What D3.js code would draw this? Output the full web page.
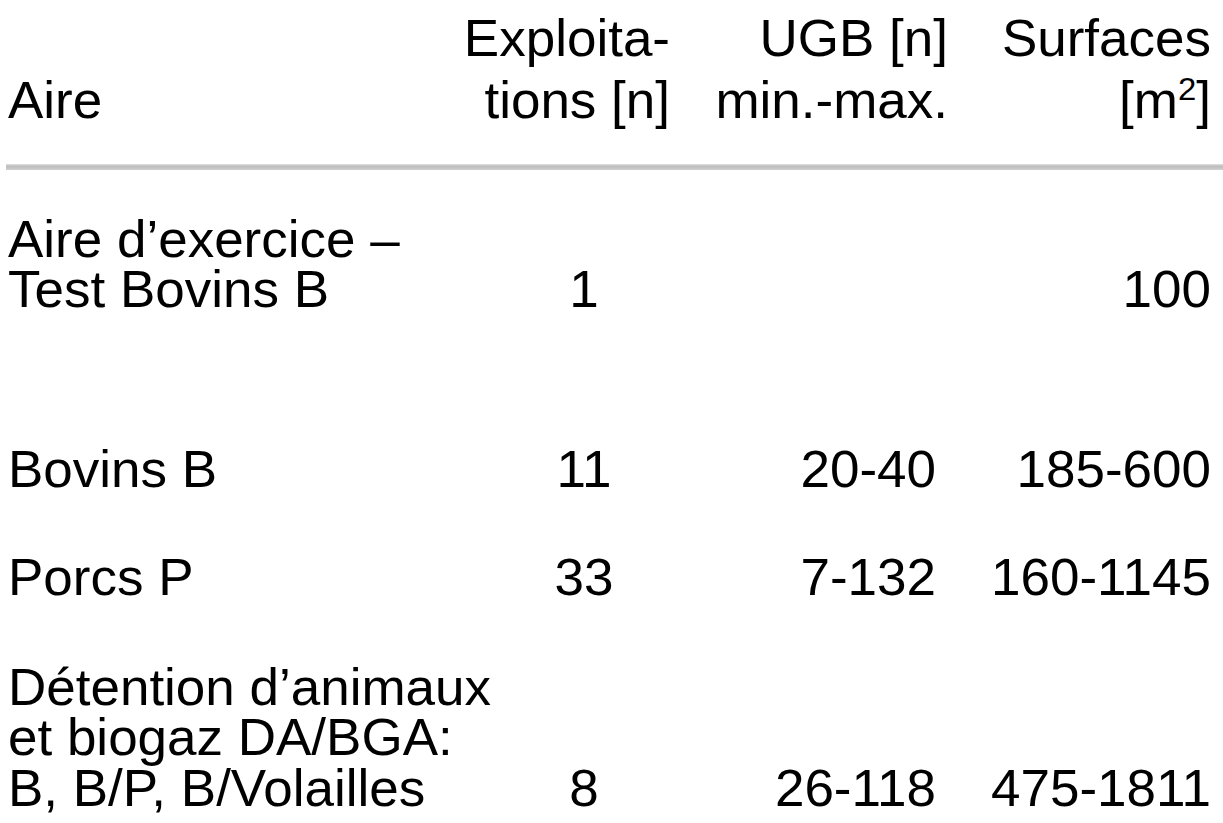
<!DOCTYPE html>
<html>
<head>
<meta charset="utf-8">
<script src="https://cdn.jsdelivr.net/npm/d3@7"></script>
<style>
  html, body { margin: 0; padding: 0; background: #fff; }
  svg { display: block; }
</style>
</head>
<body>
<svg id="chart" width="1223" height="823"></svg>
<script>
// ---- data ----
const headerAire = ["", "Aire"];
const headerExploitations = ["Exploita-", "tions [n]"];
const headerUGB = ["UGB [n]", "min.-max."];
const headerSurfaces = ["Surfaces", "[m|2|]"]; // "|2|" marks superscript

const categories = [
  ["Aire d\u2019exercice \u2013", "Test Bovins B"],
  ["Bovins B"],
  ["Porcs P"],
  ["D\u00e9tention d\u2019animaux", "et biogaz DA/BGA:", "B, B/P, B/Volailles"]
];
const exploitations = ["1", "11", "33", "8"];
const ugbRange = ["", "20-40", "7-132", "26-118"];
const surfaceRange = ["100", "185-600", "160-1145", "475-1811"];

// ---- layout ----
const W = 1223, H = 823;
const fontSize = 53;
const sy = 0.96;
const svg = d3.select("#chart");

// row index -> baseline of the row's first line (screen px)
const rowY = d3.scaleOrdinal().domain([0, 1, 2, 3]).range([257, 487, 595, 705]);
const lineStep = 50.5;
const headY = d3.scaleOrdinal().domain([0, 1]).range([56, 118]);

// column anchors
const xHead = d3.scaleOrdinal().domain(["aire", "exp", "ugb", "surf"]).range([8, 670, 948, 1211]);
const xBody = d3.scaleOrdinal().domain(["aire", "exp", "ugb", "surf"]).range([8, 584, 936, 1211]);
const anchorHead = { aire: "start", exp: "end", ugb: "end", surf: "end" };
const anchorBody = { aire: "start", exp: "middle", ugb: "end", surf: "end" };

const g = svg.append("g")
  .attr("transform", `scale(1,${sy})`)
  .attr("font-family", "'Liberation Sans', Arial, Helvetica, sans-serif")
  .attr("font-size", fontSize)
  .attr("fill", "#000");

function addText(xx, yy, anc, txt) {
  const t = g.append("text")
    .attr("x", xx)
    .attr("y", yy / sy)
    .attr("text-anchor", anc);
  const parts = txt.split("|");
  parts.forEach((p, i) => {
    if (!p) return;
    const ts = t.append("tspan").text(p);
    if (i % 2 === 1) {
      ts.attr("font-size", fontSize * 0.62).attr("dy", -fontSize * 0.36);
    } else if (i > 0) {
      ts.attr("dy", fontSize * 0.36);
    }
  });
}

// header
[["aire", headerAire], ["exp", headerExploitations], ["ugb", headerUGB], ["surf", headerSurfaces]]
  .forEach(([col, lines]) => lines.forEach((l, i) => {
    if (l) addText(xHead(col), headY(i), anchorHead[col], l);
  }));

// separator rule
const defs = svg.append("defs");
const grad = defs.append("linearGradient").attr("id", "ruleGrad")
  .attr("x1", 0).attr("y1", 0).attr("x2", 0).attr("y2", 1);
grad.append("stop").attr("offset", "0%").attr("stop-color", "#e0e0e0");
grad.append("stop").attr("offset", "40%").attr("stop-color", "#bdbdbd");
grad.append("stop").attr("offset", "100%").attr("stop-color", "#d0d0d0");
svg.append("rect")
  .attr("x", 6).attr("y", 164)
  .attr("width", W - 6).attr("height", 6)
  .attr("fill", "url(#ruleGrad)");

// body rows
categories.forEach((lines, r) => {
  const y0 = rowY(r);
  lines.forEach((l, i) => addText(xBody("aire"), y0 + i * lineStep, "start", l));
  const yl = y0 + (lines.length - 1) * lineStep;
  if (exploitations[r]) addText(xBody("exp"), yl, anchorBody.exp, exploitations[r]);
  if (ugbRange[r]) addText(xBody("ugb"), yl, anchorBody.ugb, ugbRange[r]);
  if (surfaceRange[r]) addText(xBody("surf"), yl, anchorBody.surf, surfaceRange[r]);
});
</script>
</body>
</html>
